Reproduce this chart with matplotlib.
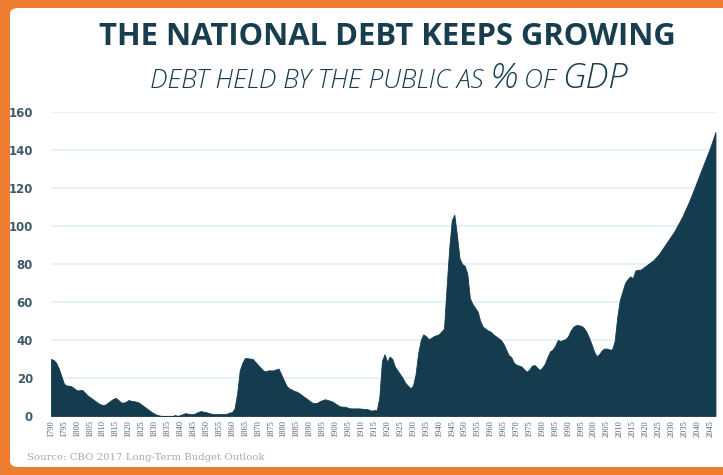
import numpy as np
import matplotlib
matplotlib.use("Agg")
import matplotlib.pyplot as plt
from matplotlib.patches import FancyBboxPatch

# Deuda en manos del público, % del PIB (CBO 2017)
years = np.arange(1790, 2048)
debt = [
    30, 29.5, 28, 25, 21, 17, 16, 16, 15.5, 14.5,          # 1790s
    13.5, 13.5, 13.8, 12.5, 11, 10, 9, 8, 7, 6.2,          # 1800s
    5.8, 6, 7, 8, 9, 9.5, 8.5, 7.2, 7, 7.5,                # 1810s
    8.4, 8, 7.8, 7.5, 7, 6, 5, 4, 3, 2,                    # 1820s
    1.2, 0.6, 0.2, 0, 0, 0, 0, 0, 0.5, 0,                  # 1830s
    0.5, 1, 1.5, 1.2, 1, 1, 1.5, 2.2, 2.6, 2.2,            # 1840s
    2, 1.6, 1.2, 1, 1, 1, 1, 1, 1.2, 1.8,                  # 1850s
    2, 4, 12, 24, 28, 30.5, 30.4, 30.2, 30, 28.5,          # 1860s
    27, 25.5, 24, 23.5, 24, 24, 24, 24.5, 25, 22,          # 1870s
    19, 16, 14.6, 14, 13.2, 12.8, 12, 11, 10, 9,           # 1880s
    8, 7, 6.8, 7, 7.8, 8.4, 8.8, 8.4, 8, 7.5,              # 1890s
    6.5, 5.6, 5, 4.9, 4.8, 4.2, 4, 4, 4, 4,                # 1900s
    3.9, 3.7, 3.7, 3.3, 2.8, 3.1, 3, 10, 29, 32.5,         # 1910s
    28.5, 31.3, 30, 26, 24, 22, 20, 17.5, 16, 14.6,        # 1920s
    16, 22, 33, 40, 43, 42, 40.5, 41, 42, 42.5,            # 1930s
    43, 44.5, 46, 68, 88, 103, 106, 95, 83, 80,            # 1940s
    79, 75, 62, 59, 57, 55, 50, 47, 46, 45,                # 1950s
    44.4, 43, 42, 41, 40, 38, 35, 32, 31, 28,              # 1960s
    27, 26.5, 26, 24.5, 23.3, 24.5, 26.5, 26.8, 25.5, 24.2,  # 1970s
    25.5, 27.5, 31, 34, 35, 37, 40, 39.5, 40, 40.5,        # 1980s
    42, 45, 47, 47.8, 47.8, 47.5, 46.5, 44.5, 41.5, 38,    # 1990s
    34, 31.5, 32.5, 34.5, 35.5, 35.5, 35, 35, 39.5, 52,    # 2000s
    61, 65.5, 70, 72, 73.5, 72.5, 76.5, 77, 77, 78,        # 2010s
    79, 80, 81, 82, 83.5, 85, 87, 89, 91, 93,              # 2020s
    95, 97, 99.5, 102, 104.5, 107.5, 110.5, 113.5, 117, 120.5,  # 2030s
    124, 127.5, 131, 134.5, 138, 141.5, 145.5, 149.5,      # 2040s
]
tick_years = np.arange(1790, 2046, 5)
y_ticks = [0, 20, 40, 60, 80, 100, 120, 140, 160]

FILL = "#143c4e"
TITLE_C = "#173d4f"
ORANGE = "#ee7d31"

W, H = 723, 475
fig = plt.figure(figsize=(W / 100, H / 100), dpi=100)
fig.patch.set_facecolor(ORANGE)

# marco blanco con esquinas redondeadas
marco = FancyBboxPatch((10 / W, 1 - 467 / H), 740 / W, 459 / H,
                       boxstyle="round,pad=0,rounding_size=0.012",
                       transform=fig.transFigure, facecolor="white",
                       edgecolor="none", zorder=-10)
fig.patches.append(marco)

ax = fig.add_axes([51 / W, 1 - 416 / H, 665 / W, 304 / H])
ax.set_zorder(5)
ax.set_facecolor("none")
ax.fill_between(years, debt, 0, color=FILL, linewidth=0.6, edgecolor=FILL, zorder=3)
ax.set_xlim(1790, 2047.2)
ax.set_ylim(0, 160)

ax.set_yticks(y_ticks)
ax.set_yticklabels([str(v) for v in y_ticks], fontsize=8.5, fontweight="bold",
                   color="#3e5a6a", family="DejaVu Sans")
ax.set_xticks(tick_years)
ax.set_xticklabels([str(y) for y in tick_years], rotation=90, fontsize=6,
                   color="#4f6676", family="Liberation Serif")
ax.set_xticks([1890, 1990], minor=True)
ax.tick_params(axis="y", length=0, pad=13)
ax.tick_params(axis="x", which="major", length=0, pad=3)
ax.tick_params(axis="x", which="minor", length=3, color="#d8eaf4", width=1)
ax.grid(True, axis="y", color="#e2f0f8", linewidth=1.2, zorder=0)
ax.set_axisbelow(True)
for s in ax.spines.values():
    s.set_visible(False)

fig.text(387 / W, 1 - 37 / H, "THE NATIONAL DEBT KEEPS GROWING", ha="center",
         va="center", fontsize=22.3, fontweight="bold", color=TITLE_C,
         family="Open Sans")

# subtítulo con tamaños mezclados
piezas = [("DEBT HELD BY THE PUBLIC AS ", 19), ("%", 25), (" OF ", 19), ("GDP", 25)]
renderer = fig.canvas.get_renderer()
textos = []
for txt, size in piezas:
    t = fig.text(0, 1 - 88 / H, txt, ha="left", va="baseline", fontsize=size,
                 style="italic", fontweight="light", color=TITLE_C, family="Open Sans")
    textos.append(t)
total = sum(t.get_window_extent(renderer).width for t in textos)
x = 389 - total / 2
for t in textos:
    t.set_x(x / W)
    x += t.get_window_extent(renderer).width

fig.text(27 / W, 1 - 458 / H, "Source: CBO 2017 Long-Term Budget Outlook",
         ha="left", va="center", fontsize=7.3, color="#a9a9a9", family="DejaVu Serif")

fig.savefig("out.png", dpi=100, facecolor=fig.get_facecolor())
